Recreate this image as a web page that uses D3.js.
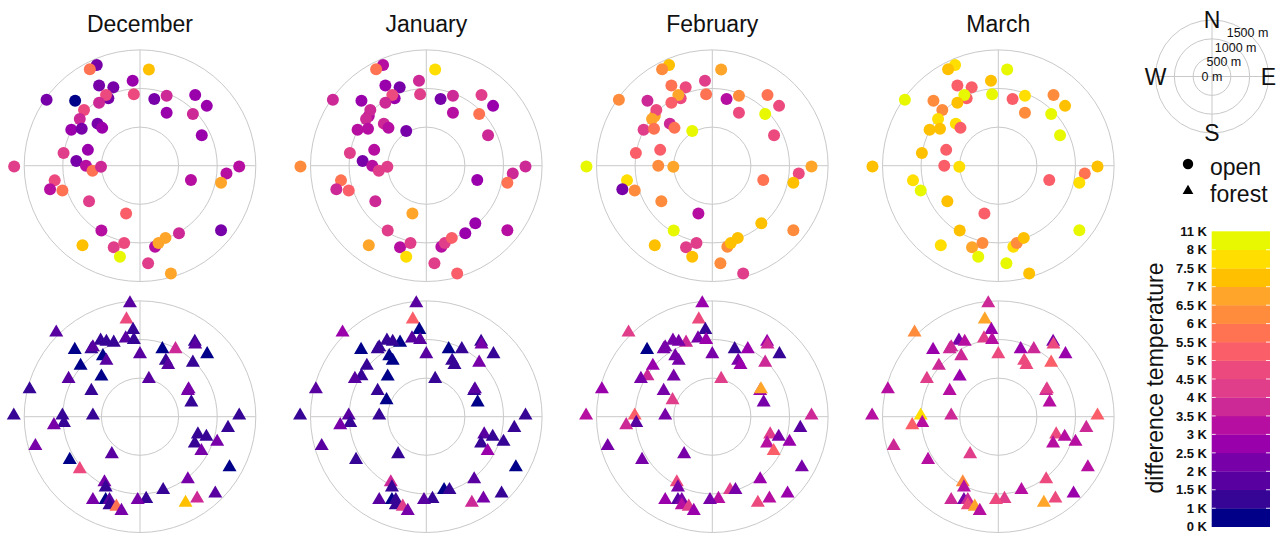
<!DOCTYPE html>
<html>
<head>
<meta charset="utf-8">
<script src="https://cdn.jsdelivr.net/npm/d3@7"></script>
<style>
  body { margin: 0; background: #fff; }
  svg { display: block; font-family: "Liberation Sans", Arial, sans-serif; }
</style>
</head>
<body>
<svg id="chart" width="1282" height="533"></svg>
<script>
// Months shown as columns
const months = ["December", "January", "February", "March"];

// Ring distances of the polar grid (m) and the compass key
const distanceTicks = [500, 1000, 1500];
const compassTicks = [0, 500, 1000, 1500];
const compassDirs = ["N", "E", "S", "W"];

// Temperature classes (K) and their colours
const tempBreaks = [0, 1, 1.5, 2, 2.5, 3, 3.5, 4, 4.5, 5, 5.5, 6, 6.5, 7, 7.5, 8, 11];
const tempTickLabels = ["0 K", "1 K", "1.5 K", "2 K", "2.5 K", "3 K", "3.5 K", "4 K", "4.5 K",
  "5 K", "5.5 K", "6 K", "6.5 K", "7 K", "7.5 K", "8 K", "11 K"];
const tempColors = ["#000088", "#360595", "#5800a0", "#7700a8", "#9900ab", "#b50ea0", "#cc2896",
  "#e03e8a", "#ec4a7e", "#fa5e68", "#ff7353", "#ff8c3c", "#ffa52a", "#ffc000", "#ffde00", "#e8f800"];

// Open-land stations: offset from the centre, metres east / north
const openEast = [-410, -745, -560, -650, 115, -95, -530, -345, -440, -80, -1210, -840, 185, 345, 715, 865,
  -530, -725, 345, 685, -780, -890, -755, -550, -490, 800, -990, -675, -825, -700, -615, -505, -1630, 1285,
  1120, 1050, 660, -1105, -1165, -1005, -660, -180, -500, 505, 1050, -745, -340, -205, 195, 240, 330, -260,
  105, 400, -260, 635];
const openNorth = [875, 645, 1305, 1250, 1245, 1100, 1040, 1015, 915, 925, 855, 840, 865, 905, 915, 775,
  815, 720, 685, 670, 605, 465, 480, 545, 490, 395, 165, 205, 60, 0, -65, -15, -10, -10, -100, -220, -185,
  -190, -305, -320, -460, -620, -840, -875, -835, -1030, -1055, -1000, -1050, -1000, -935, -1180, -1265,
  -1395, 450, -745];

// Open-land temperature difference per month (K), null = no record
const openDec = [2.3, null, 2.2, 5.8, 7.2, 2.8, 2.3, 2.2, 4.7, 4.8, 2.3, 0.8, 2.2, 3.7, 2.7, 2.8, 3.8, 4.7,
  2.8, 3.7, 3.8, 2.7, 2.3, 2.2, 2.8, 2.7, 4.3, 2.8, 2.2, 3.3, 5.7, 3.7, 4.2, 3.2, 3.3, 6.8, 3.2, 4.7, 3.3,
  5.8, 4.3, 5.2, 3.2, 3.8, 2.2, 7.3, 4.2, 4.8, 3.3, 6.7, 6.8, 9.4, 4.3, 6.7, null, null];
const openJan = [2.8, 3.2, 3.3, 5.7, 7.8, 3.7, 2.8, 2.2, 4.8, 4.3, 3.8, 2.7, 2.3, 3.7, 4.2, 2.8, 3.8, 3.7,
  3.2, 5.8, 3.7, 3.3, 3.2, 3.8, 3.3, 3.7, 4.3, 3.2, 2.3, 3.3, 4.2, 4.3, 6.2, 3.7, 3.8, 5.7, 2.8, 5.8, 3.7,
  5.3, 3.8, 6.8, 4.2, 2.8, 3.3, 6.7, 3.2, 4.3, 3.3, 4.2, 5.2, 7.7, 4.3, 5.3, 2.2, 2.7];
const openFeb = [4.7, 6.8, 7.3, 6.2, 6.7, 4.3, 5.8, 4.8, 6.8, 5.7, 6.3, 3.7, 3.2, 6.2, 5.8, 4.7, 5.3, 4.8,
  4.7, 9.2, 6.7, 4.2, 5.7, 3.8, 5.8, 4.8, 5.2, 5.3, null, 6.2, null, 6.8, 8.8, 6.7, 4.8, 7.2, 5.7, 7.8, 2.3,
  6.3, 6.2, 3.3, 9.0, null, 6.3, 7.3, 4.3, 4.2, 6.2, 7.2, 7.3, 7.2, 6.3, 4.3, 9.1, 7.2];
const openMar = [5.3, null, 7.8, 7.3, 8.9, 7.2, 5.2, 5.3, 9.3, 8.7, 9.0, 6.2, 5.3, 7.7, 6.3, 7.2, 7.3, 6.2,
  6.3, 9.1, 7.8, 7.2, 7.3, 7.7, 5.2, 8.8, 7.2, 5.3, null, 5.2, null, 7.7, 7.3, 7.2, 5.8, 7.8, 5.3, 7.7, null,
  8.9, 7.3, 5.2, 7.2, null, 9.2, 7.7, 6.8, 6.3, 7.8, 6.2, 7.3, 8.9, 9.0, 7.2, null, null];

// Forest stations: offset from the centre, metres east / north
const forestEast = [-340, -515, -840, 230, -130, -175, -1085, -90, -185, -80, -510, -435, -845, -630,
  -610, -480, -435, 0, 290, 460, 710, 870, 335, 365, 685, -770, -500, -925, 115, -1430, -630, 620, 665,
  -1635, -1005, -985, -1115, -610, 1285, 1140, 750, 860, 710, 795, 1000, -1355, -365, -910, -780, 1160,
  620, -460, -445, 300, 80, -30, -610, -445, -395, -395, -305, -240, 590, 740, 975, 715, 630];
const forestNorth = [960, 215, 525, -950, 1470, 1260, 1090, 1125, 1015, 995, 985, 970, 865, 875, 900,
  785, 725, 810, 875, 875, 970, 810, 725, 670, 700, 660, 520, 490, 490, 355, 335, 335, 185, 15, 15, -80,
  -110, 15, 15, -145, -230, -260, -345, -445, -325, -380, -485, -560, -680, -655, -810, -850, -915, -950,
  -1065, -1080, -1080, -1080, -1080, -1145, -1165, -1220, -1115, -1060, -995, 935, 355];

// Forest temperature difference per month (K), null = no record
const forestDec = [1.3, null, null, null, 1.8, 4.8, 1.8, 1.2, 1.8, 1.4, 1.2, 1.3, 0.6, 1.4, 1.8, 0.7, 1.8,
  1.8, 0.6, 3.7, 1.3, 0.6, 1.4, 1.8, 1.3, 0.7, 0.6, 1.8, 1.8, 1.3, 1.4, 2.3, 1.3, 1.4, 1.3, 1.4, 2.3, 1.3,
  1.4, 1.3, 1.4, 1.3, 1.4, 2.3, 2.3, 2.3, 1.8, 0.7, 4.7, 0.6, 2.3, 2.3, 1.4, 1.3, 1.4, 2.3, 2.3, 0.6, 1.8,
  1.3, 5.7, 2.3, 7.3, 3.7, 1.8, 1.8, 2.3];
const forestJan = [0.6, 0.7, 1.2, 0.6, 1.8, 5.3, 2.8, 0.7, 1.8, 1.8, 1.3, 1.2, 0.6, 1.1, 1.3, 0.6, 0.7,
  1.8, 0.6, 1.3, 1.4, 1.3, 1.4, 1.3, 2.3, 1.4, 0.7, 1.8, 1.3, 1.8, 1.4, 1.3, 0.6, 1.3, 1.8, 1.3, 2.3, 1.4,
  1.3, 1.4, 1.8, 1.3, 1.4, 2.8, 1.3, 1.8, 1.4, 1.3, null, 0.7, 1.8, 3.8, 1.4, 1.3, 1.4, 1.8, 1.8, 0.6, 1.3,
  1.4, 4.3, 2.3, 3.7, 2.3, 1.3, 2.3, 1.8];
const forestFeb = [3.7, 4.3, 3.8, 4.2, 2.8, 4.7, 4.3, 1.3, 2.3, 2.8, 2.2, 2.3, 0.7, 2.2, 2.3, 2.2, 2.3,
  2.2, 1.4, 2.8, 2.7, 1.3, 2.3, 2.8, 3.7, 2.8, 2.2, 2.3, 4.2, 2.7, 2.3, 2.8, 2.2, 3.3, 5.2, 1.8, 3.7, 2.3,
  3.8, 1.7, 4.3, 2.2, 3.2, 5.3, 2.8, 2.2, 2.3, 2.2, null, 2.3, 2.8, 4.8, 2.2, 2.3, 3.2, 2.3, 2.8, 1.8, 2.2,
  3.3, 4.3, 2.7, 4.7, 3.2, 2.8, 3.7, 6.8];
const forestMar = [null, null, null, null, 3.7, 6.8, 6.3, 2.8, 4.3, 3.2, 2.3, 3.3, 2.7, 3.8, 3.7, 3.8,
  null, 4.7, 2.8, 3.7, 2.2, 2.7, 4.8, 4.7, 5.2, 3.8, 2.8, 4.3, null, 3.2, 3.3, 3.7, 3.2, 3.3, 7.8, 3.2, 5.3,
  3.7, 5.2, 3.8, 4.8, 3.3, 3.2, null, 3.3, 3.7, 4.3, 3.2, null, 3.3, 4.8, 6.2, 3.2, 3.3, 4.2, 4.8, 3.7, 2.2,
  3.8, 4.7, 6.7, 3.2, 6.8, 4.8, 2.8, 4.7, 4.3];

// ---------------------------------------------------------------------------
const svg = d3.select("#chart");
const gridColor = "#c9c9c9";
const R = 115.8;
const colX = [140, 426.3, 712.3, 998.3];
const rowY = [165.7, 416.7];

const color = d3.scaleThreshold().domain(tempBreaks.slice(1, -1)).range(tempColors);
const radius = d3.scaleLinear().domain([0, 1500]).range([0, R]);
const xPos = d3.scaleLinear().domain([-1500, 1500]).range([-R, R]);
const yPos = d3.scaleLinear().domain([-1500, 1500]).range([R, -R]);

const rows = [
  { east: openEast, north: openNorth, values: [openDec, openJan, openFeb, openMar], shape: "circle" },
  { east: forestEast, north: forestNorth, values: [forestDec, forestJan, forestFeb, forestMar], shape: "triangle" }
];

const triangle = d3.symbol().type(d3.symbolTriangle).size(85);

function drawGrid(g, rScale, ticks) {
  const rMax = rScale(ticks[ticks.length - 1]);
  g.selectAll("circle.ring").data(ticks).join("circle")
    .attr("class", "ring")
    .attr("r", d => rScale(d))
    .attr("fill", "none")
    .attr("stroke", gridColor)
    .attr("stroke-width", 1);
  g.append("line").attr("x1", -rMax).attr("x2", rMax).attr("y1", 0).attr("y2", 0)
    .attr("stroke", gridColor).attr("stroke-width", 1);
  g.append("line").attr("y1", -rMax).attr("y2", rMax).attr("x1", 0).attr("x2", 0)
    .attr("stroke", gridColor).attr("stroke-width", 1);
}

// Month titles
svg.selectAll("text.month").data(months).join("text")
  .attr("class", "month")
  .attr("x", (d, i) => colX[i])
  .attr("y", 32)
  .attr("text-anchor", "middle")
  .attr("font-size", 23)
  .attr("fill", "#111")
  .text(d => d);

// Polar panels
rows.forEach((row, ri) => {
  months.forEach((m, mi) => {
    const g = svg.append("g").attr("transform", `translate(${colX[mi]},${rowY[ri]})`);
    drawGrid(g, radius, distanceTicks);
    const pts = row.east.map((e, k) => ({ e, n: row.north[k], v: row.values[mi][k] }))
      .filter(d => d.v !== null);
    if (row.shape === "circle") {
      g.selectAll("circle.pt").data(pts).join("circle")
        .attr("class", "pt")
        .attr("cx", d => xPos(d.e))
        .attr("cy", d => yPos(d.n))
        .attr("r", 6)
        .attr("fill", d => color(d.v));
    } else {
      g.selectAll("path.pt").data(pts).join("path")
        .attr("class", "pt")
        .attr("d", triangle)
        .attr("transform", d => `translate(${xPos(d.e)},${yPos(d.n)})`)
        .attr("fill", d => color(d.v));
    }
  });
});

// Compass key
const cx = 1212, cy = 76.5;
const compassR = d3.scaleLinear().domain([0, 1500]).range([0, 56.5]);
const key = svg.append("g").attr("transform", `translate(${cx},${cy})`);
drawGrid(key, compassR, distanceTicks);
const dirAngle = { N: 0, E: 90, S: 180, W: 270 };
key.selectAll("text.dir").data(compassDirs).join("text")
  .attr("class", "dir")
  .attr("x", d => compassR(1500) * Math.sin(dirAngle[d] * Math.PI / 180))
  .attr("y", d => -compassR(1500) * Math.cos(dirAngle[d] * Math.PI / 180))
  .attr("dy", "0.36em")
  .attr("text-anchor", "middle")
  .attr("font-size", 23)
  .attr("fill", "#111")
  .text(d => d);
const labelAngle = 39 * Math.PI / 180;
key.selectAll("text.dist").data(compassTicks).join("text")
  .attr("class", "dist")
  .attr("x", d => compassR(d) * Math.sin(labelAngle))
  .attr("y", d => -compassR(d) * Math.cos(labelAngle))
  .attr("dy", "0.36em")
  .attr("text-anchor", "middle")
  .attr("font-size", 12.5)
  .attr("fill", "#111")
  .text(d => `${d} m`);

// Shape key
const shapeKey = svg.append("g");
shapeKey.append("circle").attr("cx", 1188).attr("cy", 164).attr("r", 5.2).attr("fill", "#000");
shapeKey.append("text").attr("x", 1210).attr("y", 175).attr("font-size", 23).attr("fill", "#111").text("open");
shapeKey.append("path").attr("d", d3.symbol().type(d3.symbolTriangle).size(50)())
  .attr("transform", "translate(1188,191)").attr("fill", "#000");
shapeKey.append("text").attr("x", 1210).attr("y", 202).attr("font-size", 23).attr("fill", "#111").text("forest");

// Colour bar
const barX = 1211.7, barW = 58.3;
const barY = d3.scalePoint().domain(tempTickLabels).range([526.7, 231.3]);
const bins = tempColors.map((c, i) => ({ c, lo: tempTickLabels[i], hi: tempTickLabels[i + 1] }));
const bar = svg.append("g");
bar.selectAll("rect").data(bins).join("rect")
  .attr("x", barX)
  .attr("y", d => barY(d.hi))
  .attr("width", barW)
  .attr("height", d => barY(d.lo) - barY(d.hi) + 0.3)
  .attr("fill", d => d.c);
const inner = tempTickLabels.slice(1, -1);
bar.selectAll("line.tl").data(inner).join("line")
  .attr("class", "tl")
  .attr("x1", barX).attr("x2", barX + 4)
  .attr("y1", d => barY(d)).attr("y2", d => barY(d))
  .attr("stroke", "#fff").attr("stroke-opacity", 0.85);
bar.selectAll("line.tr").data(inner).join("line")
  .attr("class", "tr")
  .attr("x1", barX + barW - 4).attr("x2", barX + barW)
  .attr("y1", d => barY(d)).attr("y2", d => barY(d))
  .attr("stroke", "#fff").attr("stroke-opacity", 0.85);
bar.selectAll("text").data(tempTickLabels).join("text")
  .attr("x", 1207)
  .attr("y", d => barY(d))
  .attr("dy", "0.36em")
  .attr("text-anchor", "end")
  .attr("font-size", 13)
  .attr("font-weight", "bold")
  .attr("fill", "#111")
  .text(d => d);
svg.append("text")
  .attr("transform", "translate(1163,378) rotate(-90)")
  .attr("text-anchor", "middle")
  .attr("font-size", 23)
  .attr("fill", "#111")
  .text("difference temperature");
</script>
</body>
</html>
